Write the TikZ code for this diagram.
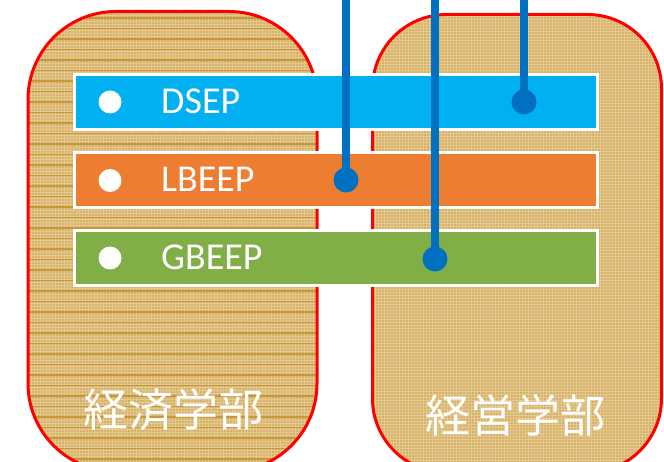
\documentclass[tikz,border=0pt]{standalone}
\usepackage{fontspec}
\setmainfont{Carlito}
\newfontfamily\jpfont{Noto Sans CJK JP}
\definecolor{tan}{RGB}{214,177,106}
\definecolor{tanlight}{RGB}{229,200,142}
\definecolor{tandark}{RGB}{198,152,58}
\definecolor{barcyan}{RGB}{0,176,240}
\definecolor{barorange}{RGB}{237,125,49}
\definecolor{bargreen}{RGB}{130,174,72}
\definecolor{lineblue}{RGB}{0,112,192}
\tikzset{
  deptbox/.style={draw=red, line width=3pt, fill=tan, minimum width=289pt, rectangle, inner sep=0pt},
  gridtex/.style={path picture={
      \foreach \i in {0,...,160}{
        \draw[tanlight, line width=0.6pt] ([yshift=\i*3pt]path picture bounding box.south west) -- ([yshift=\i*3pt]path picture bounding box.south east);}
      \foreach \i in {0,...,100}{
        \draw[tanlight, line width=0.6pt] ([xshift=\i*3pt]path picture bounding box.south west) -- ([xshift=\i*3pt]path picture bounding box.north west);}
  }},
  stripetex/.style={path picture={
      \foreach \i in {0,...,160}{
        \draw[tanlight, line width=0.6pt] ([yshift=\i*3pt]path picture bounding box.south west) -- ([yshift=\i*3pt]path picture bounding box.south east);}
      \foreach \i in {0,...,100}{
        \draw[tanlight, line width=0.6pt] ([xshift=\i*3pt]path picture bounding box.south west) -- ([xshift=\i*3pt]path picture bounding box.north west);}
      \foreach \i in {0,...,45}{
        \draw[tandark, line width=1.1pt] ([yshift=\i*10.5pt+2pt]path picture bounding box.south west) -- ([yshift=\i*10.5pt+2pt]path picture bounding box.south east);}
  }},
  barbox/.style={draw=white, line width=3pt, minimum width=523pt, minimum height=55pt, inner sep=0pt, rectangle},
  bullet/.style={circle, fill=white, minimum size=23pt, inner sep=0pt},
  bartext/.style={anchor=base west, inner sep=0pt, text=white, font=\fontsize{38}{40}\selectfont},
  depttext/.style={inner sep=0pt, text=white, font=\jpfont\fontsize{45}{50}\selectfont},
  dot/.style={circle, fill=lineblue, minimum size=25pt, inner sep=0pt},
  conn/.style={draw=lineblue, line width=8pt}
}
\begin{document}
\begin{tikzpicture}[x=1pt, y=-1pt]
\useasboundingbox (0,0) rectangle (664,462);
\begin{scope}
\clip (0,0) rectangle (664,462);
% department boxes
\node[deptbox, stripetex, rounded corners=88pt, minimum height=460pt] (econ) at (172.5,241.5) {};
\node[deptbox, gridtex, rounded corners=74pt, minimum height=458pt] (mgmt) at (517,243.5) {};
\end{scope}
\node[depttext] (econlabel) at (173,410) {経済学部};
\node[depttext] (mgmtlabel) at (515,415) {経営学部};
% bars
\node[barbox, fill=barcyan] (dsep) at (336,102) {};
\node[barbox, fill=barorange] (lbeep) at (336,180.5) {};
\node[barbox, fill=bargreen] (gbeep) at (336,258) {};
\node[bullet] (b1) at (110,102) {};
\node[bullet] (b2) at (110,180.5) {};
\node[bullet] (b3) at (110,258) {};
\node[bartext] (t1) at (161,113.5) {DSEP};
\node[bartext] (t2) at (161,192) {LBEEP};
\node[bartext] (t3) at (161,269.5) {GBEEP};
% connectors
\coordinate (top1) at (346,0);
\coordinate (top2) at (435,0);
\coordinate (top3) at (524,0);
\node[dot] (d1) at (346,180) {};
\node[dot] (d2) at (435,259) {};
\node[dot] (d3) at (524,102) {};
\draw[conn] (top1) -- (d1.center);
\draw[conn] (top2) -- (d2.center);
\draw[conn] (top3) -- (d3.center);
\end{tikzpicture}
\end{document}
